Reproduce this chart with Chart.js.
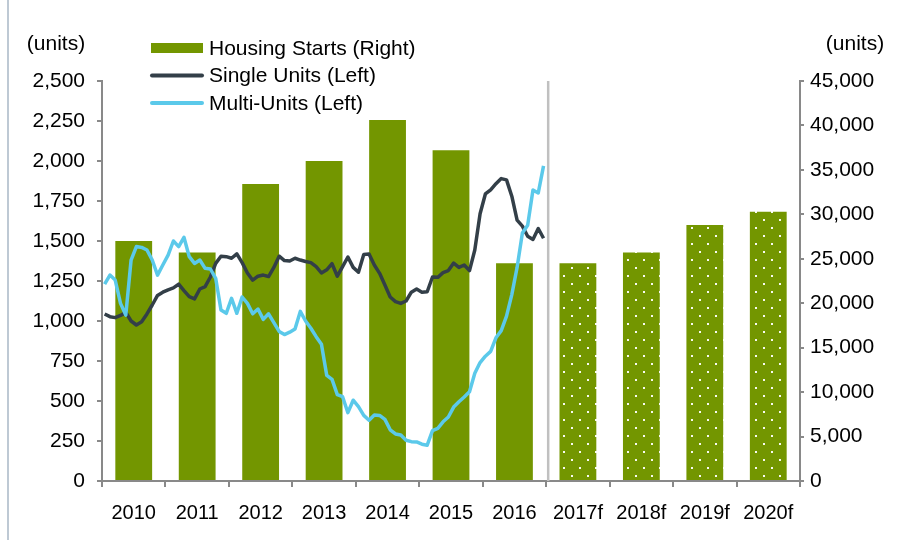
<!DOCTYPE html>
<html>
<head>
<meta charset="utf-8">
<script src="https://cdn.jsdelivr.net/npm/chart.js@4.4.1/dist/chart.umd.min.js"></script>
<style>
  html, body { margin: 0; padding: 0; background: #fff; }
</style>
</head>
<body>
<canvas id="chart" width="898" height="540"></canvas>
<script>
// categories (years, f = forecast)
const years = ['2010', '2011', '2012', '2013', '2014', '2015', '2016', '2017f', '2018f', '2019f', '2020f'];
const forecastFrom = 7;

// housing starts, right axis
const housingStarts = [27000, 25700, 33400, 36000, 40600, 37200, 24500, 24500, 25700, 28800, 30300];

// monthly series 2010-2016, left axis
const singleUnits = [
  1044, 1027, 1021, 1035, 1054, 1000, 975, 995, 1044, 1100, 1160, 1180,
  1195, 1207, 1230, 1190, 1152, 1138, 1200, 1215, 1275, 1360, 1405, 1402,
  1392, 1420, 1365, 1300, 1255, 1280, 1287, 1278, 1335, 1405, 1378, 1375,
  1392, 1381, 1372, 1365, 1340, 1300, 1320, 1358, 1280, 1340, 1400, 1335,
  1305, 1415, 1419, 1350, 1298, 1225, 1150, 1121, 1110, 1125, 1180, 1200,
  1180, 1183, 1275, 1273, 1302, 1315, 1362, 1335, 1350, 1315, 1444, 1670,
  1794, 1820, 1858, 1890, 1882, 1780, 1630, 1593, 1530, 1510, 1578, 1517
];
const multiUnits = [
  1231, 1287, 1256, 1110, 1037, 1381, 1465, 1460, 1444, 1381, 1287, 1350,
  1412, 1500, 1465, 1523, 1402, 1360, 1381, 1329, 1325, 1267, 1069, 1048,
  1142, 1048, 1150, 1110, 1045, 1075, 1010, 1045, 990, 935, 915, 930,
  950, 1060, 1000, 955, 902, 855, 660, 635, 540, 527, 427, 505,
  465, 410, 380, 412, 410, 385, 320, 294, 288, 255, 246, 244,
  230, 224, 315, 329, 370, 400, 462, 495, 525, 558, 673, 740,
  780, 810, 895, 940, 1030, 1165, 1335, 1550, 1598, 1819, 1800, 1969
];

const green = '#739600';
const dark = '#333f48';
const light = '#5bc9ea';
const axisGrey = '#898989';
const family = "'Liberation Sans', Arial, sans-serif";

Chart.defaults.font.family = family;
Chart.defaults.font.size = 21;
Chart.defaults.color = '#000';

const canvas = document.getElementById('chart');
const ctx = canvas.getContext('2d');

// white dotted fill for the forecast bars
function dotPattern() {
  const c = document.createElement('canvas');
  c.width = 16; c.height = 16;
  const g = c.getContext('2d');
  g.fillStyle = green;
  g.fillRect(0, 0, 16, 16);
  g.fillStyle = 'rgba(255,255,255,0.95)';
  g.fillRect(3, 3, 2, 2);
  g.fillRect(11, 11, 2, 2);
  return ctx.createPattern(c, 'repeat');
}
const dots = dotPattern();
const barColors = years.map((y, i) => i >= forecastFrom ? dots : green);

// month i sits inside its year's category band
const monthPoints = arr => arr.map((v, i) => ({ x: (i + 0.5) / 12, y: v }));

const extras = {
  id: 'extras',
  beforeDraw(chart) {
    const c = chart.ctx;
    c.save();
    c.strokeStyle = '#a9b7c6';
    c.lineWidth = 1.5;
    c.beginPath();
    c.moveTo(8, 0);
    c.lineTo(8, 540);
    c.stroke();
    c.restore();
  },
  beforeDatasetsDraw(chart) {
    const c = chart.ctx, x = chart.scales.x, a = chart.chartArea;
    const sep = (x.getPixelForValue(forecastFrom - 1) + x.getPixelForValue(forecastFrom)) / 2 + 2;
    c.save();
    c.strokeStyle = '#c0c0c0';
    c.lineWidth = 2.5;
    c.beginPath();
    c.moveTo(sep, a.top);
    c.lineTo(sep, a.bottom);
    c.stroke();
    c.restore();
  },
  afterDraw(chart) {
    const c = chart.ctx;
    c.save();
    c.font = '21px ' + family;
    c.fillStyle = '#000';
    c.textBaseline = 'middle';
    c.textAlign = 'center';
    c.fillText('(units)', 56, 44);
    c.fillText('(units)', 855, 44);

    // legend
    c.textAlign = 'left';
    chart.data.datasets.forEach((ds, i) => {
      const y = 48 + i * 27.5;
      if (ds.type === 'line') {
        c.strokeStyle = ds.borderColor;
        c.lineWidth = 4;
        c.lineCap = 'round';
        c.beginPath();
        c.moveTo(152, y);
        c.lineTo(202, y);
        c.stroke();
      } else {
        c.fillStyle = green;
        c.fillRect(151, y - 5, 52, 10);
      }
      c.fillStyle = '#000';
      c.fillText(ds.label, 209, y + 1);
    });
    c.restore();
  }
};

const tickGrid = len => ({
  display: true,
  drawOnChartArea: false,
  drawTicks: true,
  tickLength: len,
  color: axisGrey,
  lineWidth: 2
});

new Chart(ctx, {
  type: 'bar',
  data: {
    labels: years,
    datasets: [
      {
        type: 'bar',
        label: 'Housing Starts (Right)',
        data: housingStarts,
        backgroundColor: barColors,
        yAxisID: 'yR',
        xAxisID: 'x',
        grouped: false,
        barPercentage: 0.58,
        categoryPercentage: 1,
        order: 3
      },
      {
        type: 'line',
        label: 'Single Units (Left)',
        data: monthPoints(singleUnits),
        borderColor: dark,
        borderWidth: 3.5,
        borderJoinStyle: 'round',
        pointRadius: 0,
        tension: 0,
        yAxisID: 'y',
        xAxisID: 'xl',
        order: 2
      },
      {
        type: 'line',
        label: 'Multi-Units (Left)',
        data: monthPoints(multiUnits),
        borderColor: light,
        borderWidth: 3.5,
        borderJoinStyle: 'round',
        pointRadius: 0,
        tension: 0,
        yAxisID: 'y',
        xAxisID: 'xl',
        order: 1
      }
    ]
  },
  options: {
    responsive: false,
    animation: false,
    layout: { padding: { top: 81, left: 0, right: 0, bottom: 0 } },
    plugins: { legend: { display: false }, tooltip: { enabled: false } },
    scales: {
      x: {
        type: 'category',
        offset: true,
        grid: Object.assign(tickGrid(6), { offset: true }),
        border: { display: true, color: axisGrey, width: 2 },
        ticks: { padding: 14, maxRotation: 0, autoSkip: false, font: { size: 20 } },
        afterFit: s => { s.height = 59; }
      },
      xl: {
        type: 'linear',
        display: false,
        offset: false,
        grid: { offset: false },
        min: 0,
        max: years.length
      },
      y: {
        position: 'left',
        min: 0,
        max: 2500,
        grid: tickGrid(5),
        border: { display: true, color: axisGrey, width: 2 },
        ticks: { stepSize: 250, padding: 12, callback: v => v.toLocaleString('en-US') },
        afterFit: s => { s.width = 102; }
      },
      yR: {
        position: 'right',
        min: 0,
        max: 45000,
        grid: tickGrid(4),
        border: { display: true, color: axisGrey, width: 2 },
        ticks: { stepSize: 5000, padding: 6, callback: v => v.toLocaleString('en-US') },
        afterFit: s => { s.width = 98; }
      }
    }
  },
  plugins: [extras]
});
</script>
</body>
</html>
